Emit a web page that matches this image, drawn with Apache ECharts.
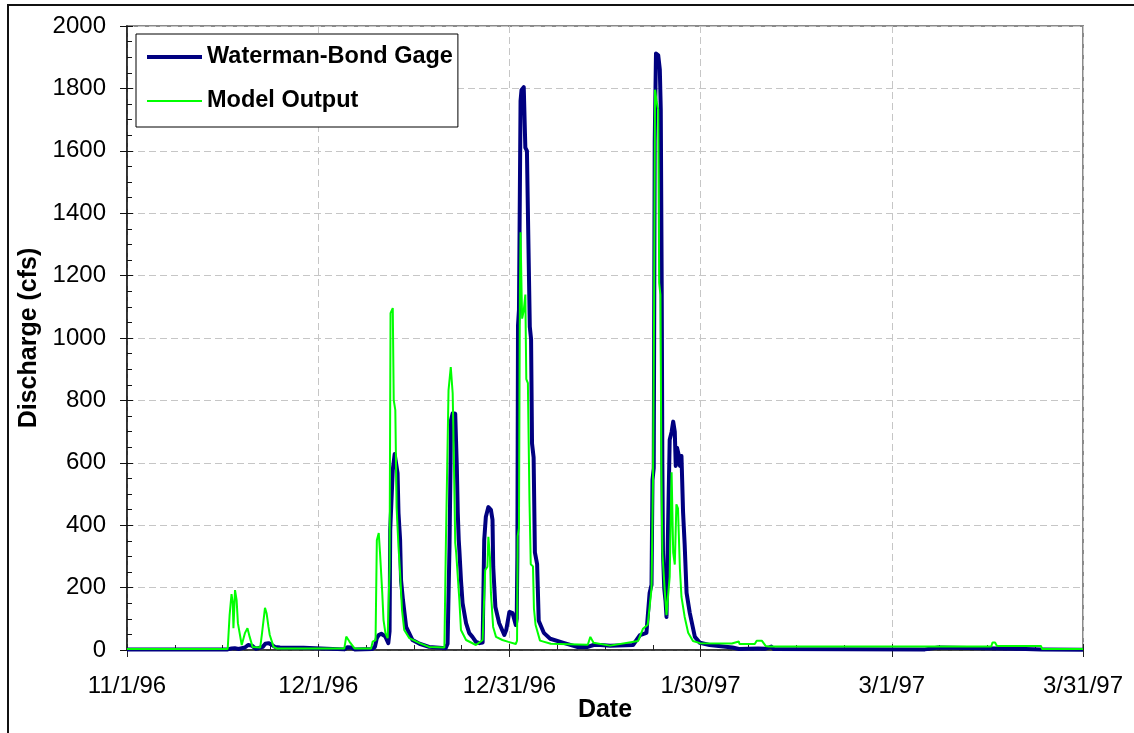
<!DOCTYPE html>
<html>
<head>
<meta charset="utf-8">
<title>Discharge (cfs)</title>
<script src="https://cdn.jsdelivr.net/npm/echarts@6/dist/echarts.min.js"></script>
<style>
  html, body { margin: 0; padding: 0; background: #ffffff; }
  #chart { width: 1134px; height: 733px; }
</style>
</head>
<body>
<div id="chart"></div>
<script>
// Day offsets are counted from 11/1/96; tick labels sit every 30 days.
const tickDays = [0, 30, 60, 90, 120, 150];
const tickLabels = ['11/1/96', '12/1/96', '12/31/96', '1/30/97', '3/1/97', '3/31/97'];

// Observed flow at the Waterman-Bond gage: [day, cfs]
const gageFlow = [
  [0, 2], [15.8, 2], [16.4, 5], [16.9, 6], [17.5, 3], [18.5, 8], [19.0, 16], [19.6, 14],
  [20.2, 4], [21.3, 10], [21.7, 20], [22.2, 22], [22.6, 18], [23.2, 10], [24, 8], [27.7, 7],
  [28.0, 2], [34.1, 2], [34.6, 9], [35.2, 8], [35.7, 2], [38.5, 3], [38.9, 10], [39.2, 38],
  [39.5, 48], [39.9, 52], [40.2, 46], [40.5, 44], [40.7, 40], [41.0, 22], [41.2, 60],
  [41.3, 384], [41.7, 577], [42.0, 628], [42.2, 631], [42.45, 567], [42.6, 439], [42.85, 353],
  [43.0, 224], [43.3, 160], [43.8, 74], [44.8, 32], [45.9, 20], [47.4, 10], [50.0, 6],
  [50.3, 20], [50.6, 330], [50.85, 737], [51.1, 759], [51.5, 757], [51.75, 587], [51.9, 439],
  [52.05, 353], [52.15, 320], [52.4, 224], [52.65, 150], [53.2, 86], [53.7, 54], [54.2, 42],
  [54.75, 26], [55.3, 22], [55.8, 24], [56.05, 353], [56.3, 426], [56.7, 458], [57.1, 449],
  [57.35, 417], [57.46, 267], [57.8, 138], [58.4, 86], [59.2, 48], [59.5, 64], [60.0, 122],
  [60.5, 118], [61.0, 80], [61.15, 100], [61.25, 300], [61.35, 1040], [61.5, 1090],
  [61.75, 1760], [61.9, 1795], [62.25, 1804], [62.5, 1610], [62.75, 1600], [62.95, 1346],
  [63.2, 1036], [63.4, 997], [63.55, 662], [63.8, 617], [64.0, 313], [64.35, 275], [64.6, 94],
  [65.4, 55], [66.4, 36], [68.5, 23], [70.6, 10], [72.3, 10], [73.2, 16], [74.3, 16],
  [75.8, 14], [79.4, 16], [80.5, 48], [81.5, 55], [82.0, 183], [82.3, 209], [82.45, 545],
  [82.65, 583], [82.8, 1628], [83.0, 1912], [83.35, 1906], [83.6, 1861], [83.75, 1732],
  [83.9, 1151], [84.0, 596], [84.1, 312], [84.3, 196], [84.5, 157], [84.65, 106], [84.8, 287],
  [85.15, 674], [85.45, 699], [85.7, 732], [85.95, 699], [86.1, 590], [86.3, 648], [86.6, 622],
  [86.75, 590], [87.0, 622], [87.25, 441], [87.5, 338], [87.8, 183], [88.3, 119], [89.1, 42],
  [89.9, 23], [91.4, 16], [95, 8], [96, 3], [99, 5], [100.2, 4], [101.1, 11], [101.5, 3],
  [125.2, 2], [125.3, 8], [127.3, 8], [127.4, 4], [141, 3], [143.5, 2], [150, 1]
];

// Simulated flow from the model: [day, cfs]
const modelFlow = [
  [0, 3], [15.8, 3], [16.1, 112], [16.4, 179], [16.6, 150], [16.7, 70], [16.95, 192],
  [17.2, 160], [17.4, 86], [17.7, 80], [18.0, 16], [18.5, 54], [18.9, 70], [19.25, 42],
  [19.7, 10], [20.9, 8], [21.15, 48], [21.65, 135], [21.9, 118], [22.2, 74], [22.4, 48],
  [23.0, 10], [23.5, 5], [34.1, 5], [34.4, 43], [34.9, 27], [35.7, 5], [38.3, 5], [38.55, 27],
  [39.0, 32], [39.2, 352], [39.5, 375], [39.7, 311], [40.05, 183], [40.25, 96], [40.55, 54],
  [40.9, 38], [41.2, 267], [41.35, 1080], [41.7, 1096], [41.85, 801], [42.1, 769], [42.3, 458],
  [42.6, 330], [42.85, 247], [43.15, 128], [43.5, 64], [44.3, 38], [45.9, 22], [47.4, 10],
  [49.8, 8], [50.05, 363], [50.45, 833], [50.8, 907], [51.1, 823], [51.3, 599], [51.5, 343],
  [51.65, 311], [52.15, 160], [52.4, 64], [53.2, 32], [54.75, 16], [55.8, 32], [56.2, 256],
  [56.55, 267], [56.7, 363], [56.95, 298], [57.1, 183], [57.45, 74], [57.9, 42], [58.9, 32],
  [59.85, 26], [61.0, 19], [61.2, 30], [61.3, 365], [61.5, 391], [61.65, 1152], [61.75, 1339],
  [61.9, 1161], [62.0, 1062], [62.25, 1088], [62.5, 1139], [62.65, 868], [62.9, 855],
  [63.15, 481], [63.35, 275], [63.7, 268], [63.85, 133], [64.1, 81], [64.8, 30], [66.5, 20],
  [72.3, 17], [72.7, 42], [73.2, 23], [75.8, 14], [80.2, 29], [80.95, 68], [81.7, 81],
  [82.3, 196], [82.55, 583], [82.7, 1086], [82.85, 1796], [83.1, 1757], [83.35, 1732],
  [83.5, 1177], [83.7, 1138], [83.85, 570], [84.0, 312], [84.4, 183], [84.65, 112], [84.9, 106],
  [85.15, 235], [85.45, 570], [85.7, 312], [85.95, 274], [86.2, 467], [86.45, 454], [86.75, 261],
  [87.0, 170], [87.5, 106], [88.05, 55], [88.8, 29], [89.9, 22], [94.9, 21], [95.0, 27],
  [96.0, 27], [96.1, 19], [98.5, 19], [98.8, 30], [99.6, 30], [100.2, 13], [100.7, 11],
  [135.6, 11], [135.8, 24], [136.2, 24], [136.5, 13], [143.4, 13], [143.6, 3], [150, 3]
];

const seriesNames = ['Waterman-Bond Gage', 'Model Output'];

const FONT = '"Liberation Sans", Arial, sans-serif';
const dayMin = tickDays[0];
const dayMax = tickDays[tickDays.length - 1];
const dayStep = tickDays[1] - tickDays[0];

const chart = echarts.init(document.getElementById('chart'), null, { renderer: 'canvas' });

chart.setOption({
  animation: false,
  backgroundColor: '#ffffff',
  textStyle: { fontFamily: FONT, color: '#000' },
  graphic: [{
    // outer chart frame
    type: 'rect',
    shape: { x: 8, y: 5, width: 1300, height: 900 },
    style: { fill: 'none', stroke: '#111', lineWidth: 2 },
    silent: true
  }],
  grid: {
    left: 127, top: 26, right: 51, bottom: 83,
    show: true, borderColor: '#8a8a8a', borderWidth: 2, backgroundColor: 'transparent'
  },
  legend: {
    orient: 'vertical',
    left: 136, top: 34,
    padding: [11, 5, 14, 11],
    itemGap: 20,
    itemWidth: 55, itemHeight: 22,
    backgroundColor: '#ffffff',
    borderColor: '#000', borderWidth: 1,
    textStyle: { fontFamily: FONT, fontSize: 23.5, fontWeight: 'bold', color: '#000' },
    // plain line keys: thick navy for the gage, thin green for the model
    data: [
      { name: seriesNames[0], icon: 'path://M0,0H55V4H0Z' },
      { name: seriesNames[1], icon: 'path://M0,0H55V2H0Z' }
    ]
  },
  xAxis: [{
    type: 'value',
    min: dayMin, max: dayMax, interval: dayStep,
    name: 'Date', nameLocation: 'middle', nameGap: 48, nameMoveOverlap: false,
    nameTextStyle: { fontFamily: FONT, fontSize: 25, fontWeight: 'bold', color: '#000' },
    axisLine: { show: true, onZero: false, lineStyle: { color: '#222', width: 1.5 } },
    axisTick: { show: true, inside: false, length: 7, lineStyle: { color: '#222', width: 1 } },
    axisLabel: {
      margin: 24, fontFamily: FONT, fontSize: 24, color: '#000',
      formatter: v => tickLabels[Math.round((v - dayMin) / dayStep)]
    },
    splitLine: { show: true, lineStyle: { color: '#c6c6c6', type: [7, 4], width: 1 } }
  }, {
    // inward-pointing major and minor ticks on the date axis
    type: 'value', position: 'bottom',
    min: dayMin, max: dayMax, interval: dayStep,
    axisLine: { show: false },
    axisTick: { show: true, inside: true, length: 6, lineStyle: { color: '#222', width: 1 } },
    minorTick: { show: true, splitNumber: 4, length: 5, lineStyle: { color: '#222', width: 1 } },
    axisLabel: { show: false },
    splitLine: { show: false }
  }],
  yAxis: [{
    type: 'value',
    min: 0, max: 2000, interval: 200,
    name: 'Discharge (cfs)', nameLocation: 'middle', nameGap: 84,
    nameTextStyle: { fontFamily: FONT, fontSize: 25, fontWeight: 'bold', color: '#000' },
    axisLine: { show: true, onZero: false, lineStyle: { color: '#111', width: 1.5 } },
    axisTick: { show: true, inside: false, length: 7, lineStyle: { color: '#111', width: 1 } },
    axisLabel: { margin: 21, fontFamily: FONT, fontSize: 24, color: '#000', formatter: v => String(v) },
    splitLine: { show: true, lineStyle: { color: '#c6c6c6', type: [7, 4], width: 1 } }
  }, {
    // inward-pointing major and minor ticks on the discharge axis
    type: 'value', position: 'left',
    min: 0, max: 2000, interval: 200,
    axisLine: { show: false },
    axisTick: { show: true, inside: true, length: 6, lineStyle: { color: '#111', width: 1 } },
    minorTick: { show: true, splitNumber: 4, length: 5, lineStyle: { color: '#111', width: 1 } },
    axisLabel: { show: false },
    splitLine: { show: false }
  }],
  series: [{
    name: seriesNames[0],
    type: 'line',
    xAxisIndex: 0, yAxisIndex: 0,
    data: gageFlow,
    showSymbol: false, symbol: 'none',
    lineStyle: { color: '#000080', width: 4, join: 'round' },
    itemStyle: { color: '#000080' },
    z: 2
  }, {
    name: seriesNames[1],
    type: 'line',
    xAxisIndex: 0, yAxisIndex: 0,
    data: modelFlow,
    showSymbol: false, symbol: 'none',
    lineStyle: { color: '#00ff00', width: 2 },
    itemStyle: { color: '#00ff00' },
    z: 3
  }]
});
</script>
</body>
</html>
